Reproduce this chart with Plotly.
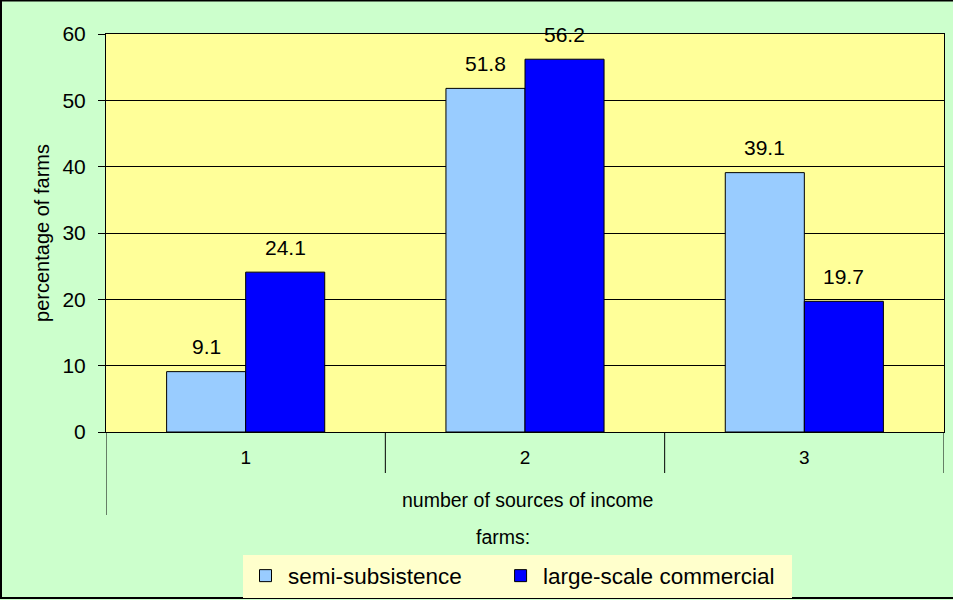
import plotly.graph_objects as go

categories = ["1", "2", "3"]
semi_subsistence = [9.1, 51.8, 39.1]
large_scale = [24.1, 56.2, 19.7]
series_names = ["semi-subsistence", "large-scale commercial"]
x_title = "number of sources of income"
y_title = "percentage of farms"
group_title = "farms:"

FONT = "Liberation Sans, Arial, sans-serif"
COLORS = ["#99CCFF", "#0000FF"]
NBSP = "&nbsp;"

W, H = 953, 600
L, R, T, B = 106, 9, 34, 168
pw = W - L - R
ph = H - T - B


def px_x(px):
    return (px - L) / pw


def px_y(py):
    return (H - B - py) / ph


fig = go.Figure()
annotations = []
bar_half = 39.5
for i, (name, vals, col) in enumerate(zip(series_names, [semi_subsistence, large_scale], COLORS)):
    pad = NBSP * (5 if i == 0 else 2)
    fig.add_trace(go.Bar(
        x=categories, y=vals, name=name + pad,
        marker=dict(color=col, line=dict(color="black", width=1)),
    ))
    shift = -bar_half if i == 0 else bar_half
    for ci, v in enumerate(vals):
        annotations.append(dict(
            x=ci, y=v, xref="x", yref="y", text=f"{v:.1f}", showarrow=False,
            xshift=shift, yshift=25, yanchor="middle", xanchor="center",
            font=dict(size=21, family=FONT, color="black"),
        ))

shapes = []
for xv in [-0.5, 0.5, 1.5, 2.5]:
    bottom = 515 if xv == -0.5 else 473
    shapes.append(dict(type="line", xref="x", yref="paper", x0=xv, x1=xv,
                       y0=0, y1=px_y(bottom), line=dict(color="black", width=1)))
shapes.append(dict(type="rect", xref="paper", yref="paper",
                   x0=px_x(1), x1=px_x(965), y0=px_y(598), y1=px_y(0.5),
                   line=dict(color="black", width=2), layer="below"))

annotations += [
    dict(text=x_title, xref="paper", yref="paper", x=px_x(527), y=px_y(500),
         showarrow=False, font=dict(size=19.5, family=FONT), xanchor="center", yanchor="middle"),
    dict(text=group_title, xref="paper", yref="paper", x=px_x(503), y=px_y(537),
         showarrow=False, font=dict(size=19.5, family=FONT), xanchor="center", yanchor="middle"),
]

fig.update_layout(
    width=W, height=H,
    margin=dict(l=L, r=R, t=T, b=B, autoexpand=False),
    paper_bgcolor="#CCFFCC", plot_bgcolor="#FFFF99",
    font=dict(family=FONT, color="black"),
    barmode="group", bargap=0.434, bargroupgap=0,
    showlegend=True,
    legend=dict(orientation="h", x=px_x(243), xanchor="left", y=px_y(576), yanchor="middle",
                bgcolor="#FFFFCC", font=dict(size=22.5, family=FONT),
                itemwidth=35),
    shapes=shapes,
    annotations=annotations,
)
fig.update_xaxes(type="category", range=[-0.5, 2.5], showline=True, linecolor="black", linewidth=1,
                 ticks="", tickfont=dict(size=19, family=FONT), showgrid=False,
                 mirror=True, ticklabelstandoff=8)
fig.update_yaxes(range=[0, 60], dtick=10, showline=True, linecolor="black", linewidth=1,
                 ticks="outside", ticklen=7, tickcolor="black", showgrid=True, gridcolor="black",
                 gridwidth=1, tickfont=dict(size=21, family=FONT), mirror=True,
                 ticklabelstandoff=8,
                 title=dict(text=y_title, font=dict(size=20, family=FONT), standoff=7),
                 zeroline=False)

fig.write_html("out.html", config={"displayModeBar": False})

with open("out.html", encoding="utf-8") as f:
    html = f.read()
html = html.replace("<body>", '<body style="margin:0;padding:0;">', 1)
with open("out.html", "w", encoding="utf-8") as f:
    f.write(html)
